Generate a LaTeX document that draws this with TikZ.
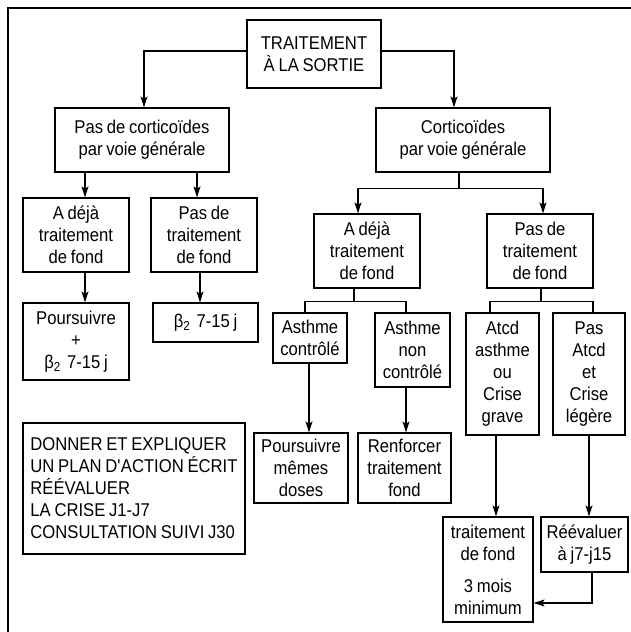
\documentclass[tikz,border=0pt]{standalone}
\usepackage{fontspec}
\setmainfont{Liberation Sans}[FakeStretch=0.9,WordSpace=0.8]
\usetikzlibrary{arrows.meta}
\begin{document}
\begin{tikzpicture}[x=1pt,y=-1pt,
  box/.style={draw, line width=1.2pt, inner sep=0pt, align=center, font=\fontsize{18.5}{22}\selectfont},
  arr/.style={line width=1.2pt, -{Stealth[length=11pt,width=7pt,inset=2.5pt]}},
  ln/.style={line width=1.2pt}]
\useasboundingbox (0,0) rectangle (630,632);
% frame
\draw[ln] (631,8) -- (8,8) -- (8,633);
% nodes
\node[box, minimum width=134pt, minimum height=68pt] (top) at (314,54) {TRAITEMENT\\À LA SORTIE};
\node[box, minimum width=174pt, minimum height=64pt] (pasc) at (142,140) {Pas de corticoïdes\\par voie générale};
\node[box, minimum width=174pt, minimum height=64pt] (cort) at (463,140) {Corticoïdes\\par voie générale};
\node[box, minimum width=106pt, minimum height=74pt] (ladeja) at (76,235) {A déjà\\traitement\\de fond};
\node[box, minimum width=106pt, minimum height=74pt] (lpas) at (204,235) {Pas de\\traitement\\de fond};
\node[box, minimum width=106pt, minimum height=77pt] (lpours) at (76,341.5) {Poursuivre\\+\\β\textsubscript{2}\,\,7-15 j};
\node[box, minimum width=105pt, minimum height=39pt] (lbeta) at (205.5,322.5) {β\textsubscript{2}\,\,7-15 j};
\node[box, minimum width=106pt, minimum height=74pt] (rdeja) at (367,251) {A déjà\\traitement\\de fond};
\node[box, minimum width=106pt, minimum height=74pt] (rpas) at (540,251) {Pas de\\traitement\\de fond};
\node[box, minimum width=74pt, minimum height=50pt] (actl) at (310,338) {Asthme\\contrôlé};
\node[box, minimum width=75pt, minimum height=74pt] (anctl) at (412.5,350) {Asthme\\non\\contrôlé};
\node[box, minimum width=73pt, minimum height=122pt] (atcd) at (502.5,374) {Atcd\\asthme\\ou\\Crise\\grave};
\node[box, minimum width=72pt, minimum height=122pt] (pasatcd) at (589,374) {Pas\\Atcd\\et\\Crise\\légère};
\node[box, minimum width=222pt, minimum height=131pt, align=left] (donner) at (134,488.5) {DONNER ET EXPLIQUER\\UN PLAN D\textquotesingle ACTION ÉCRIT\\RÉÉVALUER\\LA CRISE J1-J7\\CONSULTATION SUIVI J30};
\node[box, minimum width=94pt, minimum height=70pt] (pmd) at (301,468) {Poursuivre\\mêmes\\doses};
\node[box, minimum width=93pt, minimum height=70pt] (renf) at (404.5,468) {Renforcer\\traitement\\fond};
\node[box, minimum width=90pt, minimum height=105pt] (tdf) at (488,569.5) {traitement\\de fond\\[10pt]3 mois\\minimum};
\node[box, minimum width=87pt, minimum height=55pt] (reev) at (584.5,544.5) {Réévaluer\\à j7-j15};
% connectors
\draw[arr] ([yshift=3pt]top.west) -| ([xshift=2pt]pasc.north);
\draw[arr] ([yshift=3pt]top.east) -| ([xshift=-9pt]cort.north);
\draw[arr] ([xshift=9pt]ladeja.north |- pasc.south) -- ([xshift=9pt]ladeja.north);
\draw[arr] ([xshift=-7pt]lpas.north |- pasc.south) -- ([xshift=-7pt]lpas.north);
\draw[arr] ([xshift=9pt]ladeja.south) -- ([xshift=9pt]lpours.north);
\draw[arr] ([xshift=-4pt]lpas.south) -- ([xshift=-4pt]lpas.south |- lbeta.north);
\draw[ln] ([xshift=-4pt]cort.south) -- ++(0,16) coordinate (cj);
\draw[arr] (cj) -| ([xshift=-9pt]rdeja.north);
\draw[arr] (cj) -| ([xshift=3pt]rpas.north);
\draw[ln] ([xshift=-13pt]rdeja.south) -- ++(0,13) coordinate (dj);
\draw[ln] (dj) -| ([xshift=-5pt]actl.north);
\draw[ln] (dj) -| ([xshift=-6.5pt]anctl.north);
\draw[ln] ([xshift=1pt]rpas.south) -- ++(0,13) coordinate (pj);
\draw[ln] (pj) -| ([xshift=-12.5pt]atcd.north);
\draw[ln] (pj) -| ([xshift=4pt]pasatcd.north);
\draw[arr] ([xshift=-1pt]actl.south) -- ([xshift=-1pt]actl.south |- pmd.north);
\draw[arr] ([xshift=-6.5pt]anctl.south) -- ([xshift=-6.5pt]anctl.south |- renf.north);
\draw[arr] ([xshift=-6.5pt]atcd.south) -- ([xshift=-6.5pt]atcd.south |- tdf.north);
\draw[arr] (pasatcd.south) -- (pasatcd.south |- reev.north);
\draw[arr] ([xshift=7.5pt]reev.south) |- ([yshift=-33.5pt]tdf.east);
\end{tikzpicture}
\end{document}
